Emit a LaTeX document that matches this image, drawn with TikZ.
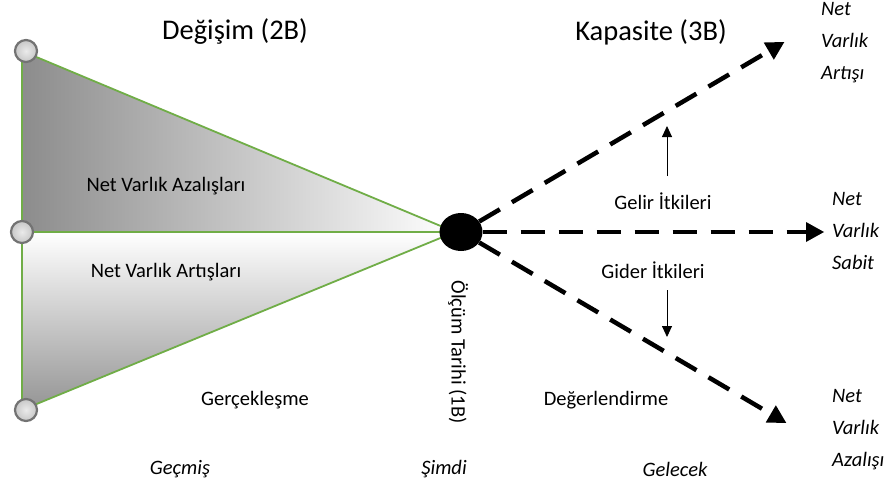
\documentclass[tikz,border=0pt]{standalone}
\usepackage{fontspec}
\setmainfont{Carlito}
\usetikzlibrary{arrows.meta,shapes.geometric}
\definecolor{edgegreen}{HTML}{70AD47}
\tikzset{
  txt/.style={inner sep=0pt, font=\fontsize{20.5}{24}\selectfont},
  head/.style={inner sep=0pt, font=\fontsize{28.5}{34}\selectfont},
  side/.style={inner sep=0pt, anchor=west, align=left, font=\fontsize{20.5}{32}\selectfont\itshape},
  era/.style={inner sep=0pt, font=\fontsize{20.5}{24}\selectfont\itshape},
  knob/.style={circle, draw=black!55, line width=2.2pt, inner color=black!8, outer color=black!22, minimum size=22pt, inner sep=0pt},
  bigdash/.style={line width=4.5pt, dash pattern=on 24pt off 14pt, -{Triangle[length=18pt,width=20pt,line width=0pt]}, shorten >=2pt},
  thin/.style={line width=0.9pt, -{Triangle[length=11pt,width=10pt]}}
}
\begin{document}
\begin{tikzpicture}[x=1pt,y=-1pt]
\useasboundingbox (0,0) rectangle (893,492);

% vertices of the two triangles
\coordinate (tl) at (22,51);
\coordinate (ml) at (22,232);
\coordinate (bl) at (22,410);
\coordinate (apex) at (455,232);

% shaded halves
\shade[left color=black!45, right color=white] (tl) -- (apex) -- (ml) -- cycle;
\shade[top color=white, bottom color=black!42] (ml) -- (apex) -- (bl) -- cycle;
\draw[edgegreen, line width=1.8pt] (tl) -- (apex) -- (bl) -- cycle;
\draw[edgegreen, line width=1.8pt] (ml) -- (apex);

% corner knobs
\node[knob] (k1) at (26,51) {};
\node[knob] (k2) at (22,232) {};
\node[knob] (k3) at (26,410) {};

% present moment
\node[ellipse, fill=black, minimum width=43pt, minimum height=38pt, inner sep=0pt] (now) at (461,232) {};

% future paths
\coordinate (up) at (786,41);
\coordinate (mid) at (826,232);
\coordinate (down) at (788,424);
\draw[bigdash] (now.30) -- (up);
\draw[bigdash] (now.east) -- (mid);
\draw[bigdash] (now.-30) -- (down);

% headings
\node[head] (h1) at (235,32) {Değişim (2B)};
\node[head] (h2) at (651,32) {Kapasite (3B)};

% labels
\node[txt] (azal) at (166,186) {Net Varlık Azalışları};
\node[txt] (artis) at (166,272) {Net Varlık Artışları};
\node[txt] (gerc) at (255,400) {Gerçekleşme};
\node[txt] (deger) at (606,400) {Değerlendirme};
\node[txt] (gelir) at (663,201) {Gelir İtkileri};
\node[txt] (gider) at (653,270) {Gider İtkileri};
\node[txt, rotate=-90] (olcum) at (458,352) {Ölçüm Tarihi (1B)};

% income / expense effects
\coordinate (gu1) at (667,176);
\coordinate (gu2) at (667,126);
\coordinate (gd1) at (667,290);
\coordinate (gd2) at (667,337);
\draw[thin] (gu1) -- (gu2);
\draw[thin] (gd1) -- (gd2);

% outcomes
\node[side] (o1) at (821,43) {Net\\Varlık\\Artışı};
\node[side] (o2) at (832,231) {Net\\Varlık\\Sabit};
\node[side] (o3) at (832,430) {Net\\Varlık\\Azalışı};

% time axis
\node[era] (past) at (180,469) {Geçmiş};
\node[era] (pres) at (444,469) {Şimdi};
\node[era] (fut) at (675,469) {Gelecek};
\end{tikzpicture}
\end{document}
